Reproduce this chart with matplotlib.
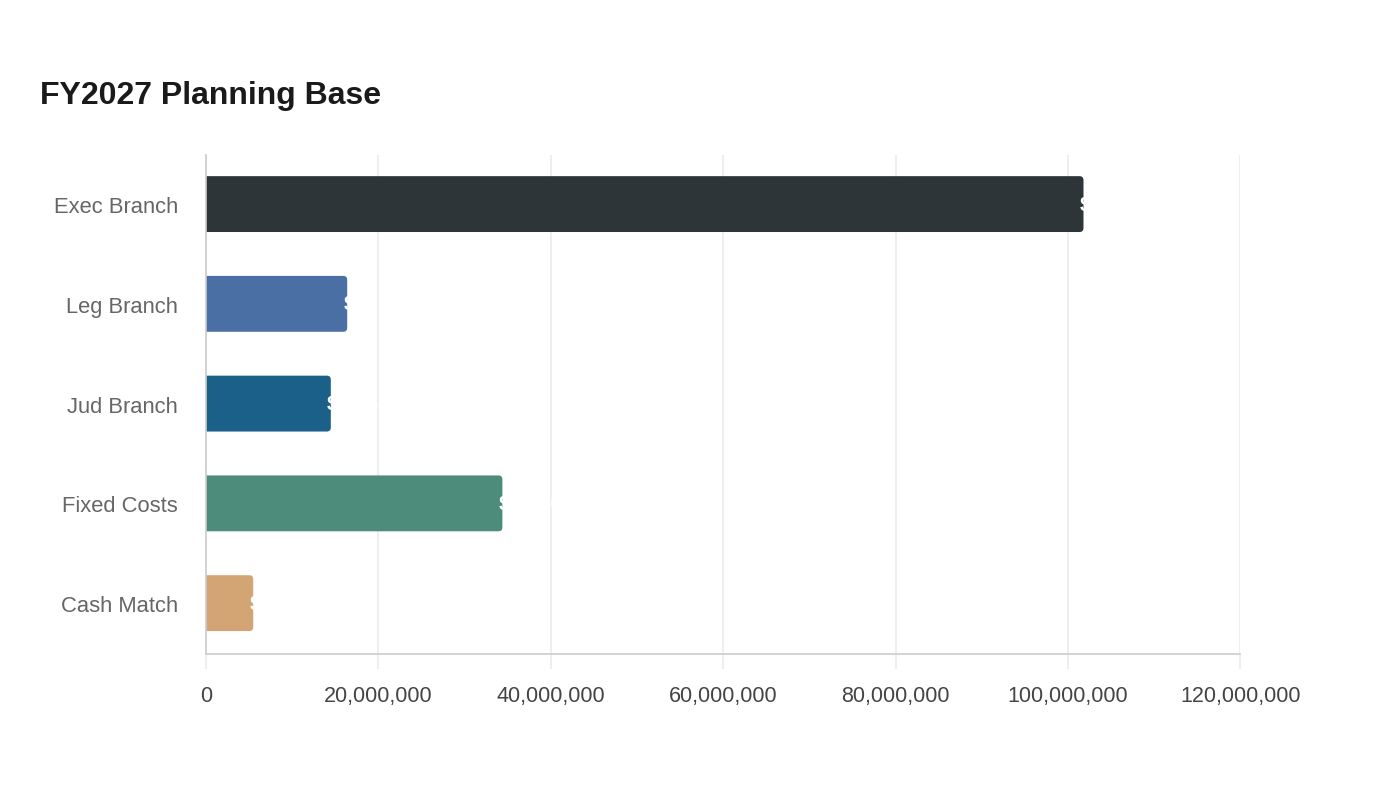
import matplotlib
matplotlib.use("Agg")
import matplotlib.pyplot as plt
from matplotlib.patches import FancyBboxPatch
from matplotlib.ticker import FuncFormatter

plt.rcParams['font.family'] = ['Liberation Sans', 'DejaVu Sans']

categories = ['Exec Branch', 'Leg Branch', 'Jud Branch', 'Fixed Costs', 'Cash Match']
values = [101800000, 16400000, 14500000, 34400000, 5500000]
colors = ['#2d3538', '#4a6fa5', '#1a6088', '#4d8b7a', '#d4a574']
xticks = [0, 20000000, 40000000, 60000000, 80000000, 100000000, 120000000]

fig = plt.figure(figsize=(14, 8), dpi=100)
ax = fig.add_axes([0.147, 0.1825, 0.739, 0.6235])

bar_h = 0.56
r = 465000           # corner radius in x units (~4px)
aspect = 0.04 / r    # so the radius in y is ~4px too

for i, (cat, v, c) in enumerate(zip(categories, values, colors)):
    y0 = i - bar_h / 2 - 0.01
    # start left of zero so the axes clip gives a square left edge
    ax.add_patch(FancyBboxPatch((-3 * r, y0), v + 3 * r, bar_h,
                                boxstyle=f"round,pad=0,rounding_size={r}",
                                mutation_aspect=aspect, fc=c, ec='none', zorder=3))
    ax.text(v - 450000, i, f"${v:,.0f}", color='white', fontsize=15,
            fontweight='bold', va='center', ha='left', zorder=4)

ax.set_xlim(0, 120000000)
ax.set_ylim(4.5, -0.5)
ax.set_yticks(range(len(categories)))
ax.set_yticklabels(categories)
ax.set_xticks(xticks)
ax.xaxis.set_major_formatter(FuncFormatter(lambda x, p: f"{x:,.0f}"))

ax.grid(axis='x', color='#ebebeb', linewidth=1.2, zorder=0)
ax.set_axisbelow(True)
for s in ['top', 'right']:
    ax.spines[s].set_visible(False)
ax.spines['left'].set_color('#cccccc')
ax.spines['bottom'].set_color('#cccccc')
ax.spines['left'].set_linewidth(1.2)
ax.spines['bottom'].set_linewidth(1.2)
ax.spines['left'].set_zorder(4)

ax.tick_params(axis='x', length=11, color='#ebebeb', width=1.2, labelsize=15.5,
               labelcolor='#444444', pad=12)
ax.tick_params(axis='y', length=0, labelsize=15.8, labelcolor='#666666', pad=20)

fig.text(40 / 1400, 1 - 96 / 800, 'FY2027 Planning Base', fontsize=23,
         fontweight='bold', color='#1a1a1a', va='center', ha='left')

fig.savefig('out.png', dpi=100, facecolor='white')
